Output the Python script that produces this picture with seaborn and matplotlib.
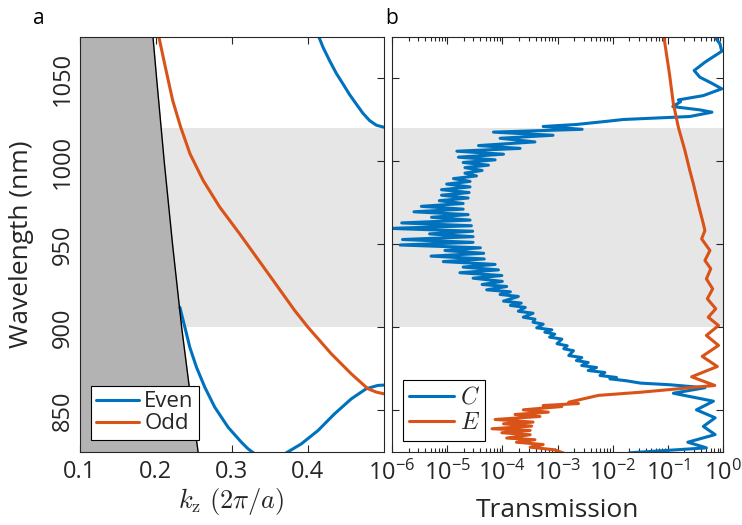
import matplotlib
matplotlib.use("Agg")
import matplotlib.pyplot as plt
from matplotlib.ticker import FixedLocator, NullFormatter, LogFormatterSciNotation
import seaborn as sns

# ---------------- panel a: band structure ----------------
LIGHT_WL = [1076, 1050, 1000, 950, 900, 850, 824]
LIGHT_K = [0.196, 0.201, 0.211, 0.222, 0.234, 0.248, 0.256]

EVEN_UPPER_WL = [1076, 1068.9, 1060.8, 1053.2, 1046.8, 1040.3, 1034.7, 1029.1, 1024.7, 1021.9, 1020.7]
EVEN_UPPER_K = [0.4140, 0.4202, 0.4289, 0.4377, 0.4465, 0.4553, 0.4640, 0.4728, 0.4816, 0.4904, 0.5000]

EVEN_LOW1_WL = [912.2, 900.2, 888.1, 876.1, 864.0, 852.0, 839.9, 830.9, 826.9, 823.9]
EVEN_LOW1_K = [0.2316, 0.2382, 0.2447, 0.2535, 0.2645, 0.2776, 0.2952, 0.3127, 0.3215, 0.3303]

EVEN_LOW2_WL = [823.9, 829.9, 837.9, 848.0, 857.0, 863.1, 865.1, 865.3]
EVEN_LOW2_K = [0.3697, 0.3917, 0.4136, 0.4355, 0.4575, 0.4772, 0.4925, 0.5000]

ODD_WL = [1076, 1056.8, 1036.7, 1020.7, 1004.6, 988.6, 972.5, 956.4, 938.4, 923.3,
          910.2, 900.2, 884.2, 872.1, 863.1, 861.1, 860.1]
ODD_K = [0.2035, 0.2125, 0.2222, 0.2327, 0.2450, 0.2623, 0.2842, 0.3105, 0.3388, 0.3625,
         0.3830, 0.4004, 0.4311, 0.4575, 0.4794, 0.4904, 0.5000]

GAP_WL = [900, 1020]

# ---------------- panel b: transmission ----------------
C_WL = [1076, 1075.0, 1070.9, 1066.4, 1061.8, 1059.8, 1054.8, 1050.8, 1047.2, 1043.8, 1039.7,
        1037.1, 1036.0, 1033.1, 1031.1, 1029.7, 1027.1, 1025.3, 1024.3, 1022.3,
        1021.1, 1019.4, 1017.7, 1015.8, 1014.0, 1011.8, 1009.6, 1007.9, 1006.2, 1004.4,
        1002.6, 1001.0, 999.4, 997.8, 996.3, 994.6, 993.0, 991.3, 989.7, 988.0,
        986.4, 984.7, 983.0, 981.3, 979.7, 978.0, 976.4, 974.7, 973.0, 971.3,
        969.7, 968.0, 966.4, 964.7, 963.0, 961.3, 959.7, 958.0, 956.4, 954.7,
        953.0, 951.3, 949.7, 948.0, 946.4, 944.7, 943.0, 941.3, 939.7, 938.0,
        936.4, 934.7, 933.0, 931.3, 929.7, 927.8,
        925.9, 924.7, 922.7, 921.5, 919.9, 918.7, 915.9, 914.7, 913.3, 912.1,
        909.8, 908.6, 906.2, 905.0, 903.2, 902.0, 899.8, 898.6, 897.2, 896.0,
        894.2, 893.0, 890.2, 889.0, 887.2, 886.0, 883.1, 881.9, 880.1, 878.9,
        877.1, 875.9, 874.1, 872.9, 871.1, 869.9, 869.1, 867.9,
        866.5, 865.5, 863.7, 860.4, 855.6, 850.4, 845.6, 840.4, 835.5, 830.9,
        827.5, 824.5]
C_T = [0.70, 0.71, 0.88, 0.95, 0.58, 0.47, 0.30, 0.38, 0.62, 0.95, 0.44,
       0.155, 0.17, 0.123, 0.38, 0.63, 0.25, 0.0155, 0.0083, 0.0022,
       5.5e-4, 2.8e-3, 6.9e-5, 8.3e-4, 9.1e-5, 3.9e-4, 3.7e-5, 2.1e-4, 1.5e-5, 1.05e-4,
       1.6e-5, 7.4e-5, 1.95e-5, 5.6e-5, 2.1e-5, 4.3e-5, 2.1e-5, 3.4e-5, 1.3e-5, 2.6e-5,
       9.8e-6, 2.6e-5, 7.9e-6, 2.5e-5, 7.9e-6, 2.4e-5, 7.2e-6, 1.95e-5, 3.4e-6, 1.95e-5,
       2.5e-6, 2.4e-5, 5.2e-6, 2.6e-5, 1.5e-6, 2.75e-5, 9.5e-7, 2.9e-5, 4.8e-6, 2.95e-5,
       1.55e-6, 2.95e-5, 1.4e-6, 4.0e-5, 9.1e-6, 4.6e-5, 5.1e-6, 4.7e-5, 8.5e-6, 7.4e-5,
       1.95e-5, 8.5e-5, 1.7e-5, 9.8e-5, 2.95e-5, 1.0e-4,
       4.3e-5, 1.2e-4, 5.2e-5, 1.4e-4, 9.1e-5, 1.95e-4, 1.05e-4, 2.2e-4, 1.4e-4, 2.6e-4,
       1.95e-4, 3.6e-4, 2.4e-4, 3.9e-4, 3.6e-4, 5.5e-4, 4.2e-4, 7.9e-4, 5.9e-4, 8.9e-4,
       7.2e-4, 1.2e-3, 9.8e-4, 1.5e-3, 1.3e-3, 1.95e-3, 1.6e-3, 2.75e-3, 2.2e-3, 3.6e-3,
       2.75e-3, 5.1e-3, 3.6e-3, 7.2e-3, 5.9e-3, 0.0117, 8.9e-3, 0.0178,
       0.032, 0.11, 0.47, 0.126, 0.67, 0.33, 0.72, 0.44, 0.72, 0.23,
       0.50, 0.020]

E_WL = [1076, 1052.8, 1034.8, 1020.7, 1006.6, 994.6, 986.6, 974.5, 962.5,
        958.4, 953.4, 946.4, 940.4, 935.4, 929.3, 923.3, 917.3, 911.3, 906.2,
        901.2, 895.2, 889.2, 882.6, 876.5, 870.3, 865.1, 861.0,
        859.1, 855.0, 854.2, 853.0, 852.4, 850.4, 849.0, 847.6, 846.4, 844.6,
        843.0, 842.0, 840.6, 839.0, 838.0, 836.6, 835.4, 833.4, 832.4, 830.9,
        829.5, 827.9, 826.3, 824.3]
E_T = [0.084, 0.107, 0.126, 0.155, 0.204, 0.25, 0.29, 0.355, 0.44,
       0.47, 0.41, 0.58, 0.47, 0.60, 0.50, 0.65, 0.52, 0.74, 0.54,
       0.83, 0.50, 0.83, 0.42, 0.79, 0.27, 0.71, 0.032,
       5.5e-3, 1.6e-3, 2.4e-3, 5.5e-4, 1.2e-3, 2.4e-4, 6.8e-4, 1.7e-4, 4.8e-4, 7.4e-5,
       3.6e-4, 1.05e-4, 3.4e-4, 6.5e-5, 3.2e-4, 9.8e-5, 3.2e-4, 1.2e-4, 3.9e-4, 1.8e-4,
       5.5e-4, 3.2e-4, 8.9e-4, 1.3e-3]

WL_TICKS = [850, 900, 950, 1000, 1050]
K_TICKS = [0.1, 0.2, 0.3, 0.4]
T_TICKS = [1e-6, 1e-5, 1e-4, 1e-3, 1e-2, 1e-1, 1e0]
T_MINOR = [m * t for t in T_TICKS[:-1] for m in range(2, 10)]

BLUE = "#0072BD"
ORANGE = "#D95319"
INK = "#262626"

sns.set_style("ticks")
plt.rcParams["font.family"] = ["Open Sans", "DejaVu Sans"]
plt.rcParams["mathtext.fontset"] = "custom"
plt.rcParams["mathtext.rm"] = "Open Sans"
plt.rcParams["mathtext.it"] = "Open Sans:italic"
plt.rcParams["mathtext.bf"] = "Open Sans:bold"

fig = plt.figure(figsize=(7.42, 5.25), dpi=100)
ax1 = fig.add_axes([80 / 742, 73 / 525, 303.5 / 742, 415 / 525])
ax2 = fig.add_axes([392 / 742, 73 / 525, 331 / 742, 415 / 525])

LW = 2.2

# ---- panel a ----
ax1.axhspan(GAP_WL[0], GAP_WL[1], color="#E6E6E6", lw=0, zorder=0)
ax1.fill_betweenx(LIGHT_WL, K_TICKS[0], LIGHT_K, color="#B3B3B3", lw=0, zorder=1)
sns.lineplot(x=EVEN_UPPER_K, y=EVEN_UPPER_WL, sort=False, estimator=None, ax=ax1,
             color=BLUE, lw=LW, zorder=2)
h_even = ax1.lines[-1]
sns.lineplot(x=EVEN_LOW1_K, y=EVEN_LOW1_WL, sort=False, estimator=None, ax=ax1,
             color=BLUE, lw=LW, zorder=2)
sns.lineplot(x=EVEN_LOW2_K, y=EVEN_LOW2_WL, sort=False, estimator=None, ax=ax1,
             color=BLUE, lw=LW, zorder=2)
sns.lineplot(x=ODD_K, y=ODD_WL, sort=False, estimator=None, ax=ax1,
             color=ORANGE, lw=LW, zorder=2)
h_odd = ax1.lines[-1]
sns.lineplot(x=LIGHT_K, y=LIGHT_WL, sort=False, estimator=None, ax=ax1,
             color="black", lw=1.0, zorder=3)

ax1.set_xlim(0.1, 0.5)
ax1.set_ylim(825, 1075)
ax1.set_xticks(K_TICKS)
ax1.set_xticklabels([f"{k:.1f}" for k in K_TICKS])
ax1.set_yticks(WL_TICKS)
ax1.set_yticklabels([str(w) for w in WL_TICKS], rotation=90, va="center")
ax1.set_ylabel("Wavelength (nm)", fontsize=19, color=INK)
ax1.yaxis.set_label_coords(-0.152, 0.5)
xl = ax1.set_xlabel(r"$k_{\mathrm{z}}\ (2\pi/a)$", fontsize=19, color=INK)
xl.set_math_fontfamily("cm")
ax1.xaxis.set_label_coords(0.5, -0.083)

leg1 = ax1.legend([h_even, h_odd], ["Even", "Odd"], loc="lower left",
                  bbox_to_anchor=(0.036, 0.029), borderaxespad=0, fontsize=16,
                  frameon=True, fancybox=False, framealpha=1, edgecolor="black",
                  handlelength=1.9, handletextpad=0.25, labelspacing=0.05,
                  borderpad=0.25)
leg1.get_frame().set_linewidth(0.8)
leg1.set_zorder(10)

# ---- panel b ----
ax2.set_xscale("log")
ax2.axhspan(GAP_WL[0], GAP_WL[1], color="#E6E6E6", lw=0, zorder=0)
sns.lineplot(x=C_T, y=C_WL, sort=False, estimator=None, ax=ax2,
             color=BLUE, lw=LW, zorder=2)
h_c = ax2.lines[-1]
sns.lineplot(x=E_T, y=E_WL, sort=False, estimator=None, ax=ax2,
             color=ORANGE, lw=LW, zorder=2)
h_e = ax2.lines[-1]
ax2.set_xlim(T_TICKS[0], T_TICKS[-1])
ax2.set_ylim(825, 1075)
ax2.xaxis.set_major_locator(FixedLocator(T_TICKS))
ax2.xaxis.set_major_formatter(LogFormatterSciNotation())
ax2.xaxis.set_minor_locator(FixedLocator(T_MINOR))
ax2.xaxis.set_minor_formatter(NullFormatter())
ax2.set_yticks(WL_TICKS)
ax2.tick_params(axis="y", labelleft=False)
ax2.set_xlabel("Transmission", fontsize=19, color=INK)
ax2.xaxis.set_label_coords(0.5, -0.112)
ax2.set_ylabel("")

leg2 = ax2.legend([h_c, h_e], ["$C$", "$E$"], loc="lower left",
                  bbox_to_anchor=(0.033, 0.0265), borderaxespad=0, fontsize=17,
                  frameon=True, fancybox=False, framealpha=1, edgecolor="black",
                  handlelength=1.9, handletextpad=0.25, labelspacing=0.05,
                  borderpad=0.25)
leg2.get_frame().set_linewidth(0.8)
leg2.set_zorder(10)
for t in leg2.get_texts():
    t.set_math_fontfamily("cm")

for ax in (ax1, ax2):
    ax.tick_params(which="both", direction="in", top=True, right=True,
                   color=INK, labelcolor=INK, width=0.8, labelsize=17)
    ax.tick_params(which="major", length=5)
    ax.tick_params(which="minor", length=3)
    ax.tick_params(axis="y", pad=4)
    ax.tick_params(axis="x", pad=6)
    for s in ax.spines.values():
        s.set_color(INK)
        s.set_linewidth(0.8)
        s.set_zorder(5)

fig.text(33 / 742, 1 - 24 / 525, "a", fontsize=15, ha="left", va="baseline", color="black")
fig.text(385 / 742, 1 - 24 / 525, "b", fontsize=15, ha="left", va="baseline", color="black")

fig.savefig("out.png", dpi=100)
